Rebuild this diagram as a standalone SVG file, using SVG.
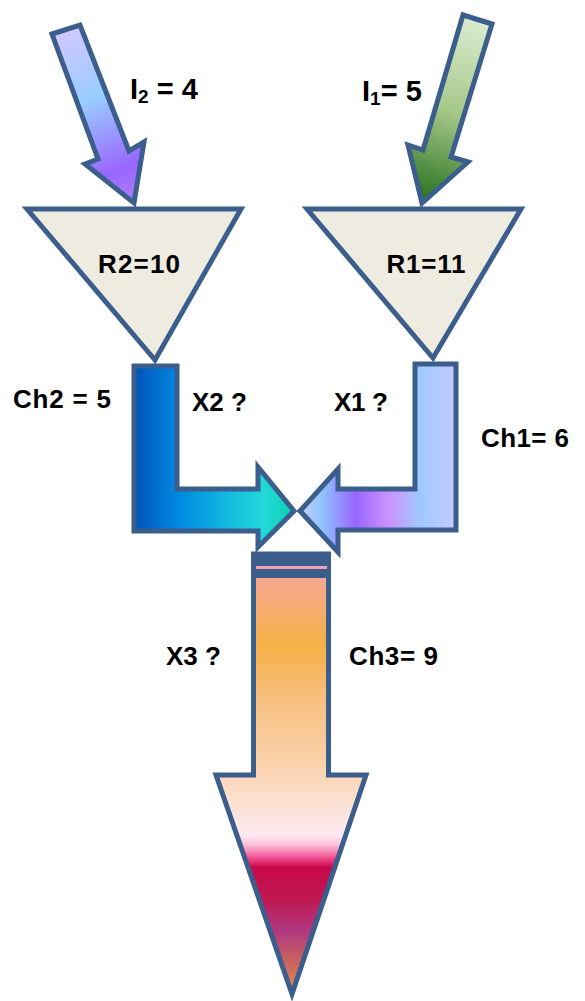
<svg xmlns="http://www.w3.org/2000/svg" width="585" height="1001" viewBox="0 0 585 1001">
  <defs>
    <style>
      .edge { stroke: #3b5e8c; stroke-width: 5; stroke-linejoin: miter; }
      .tank { fill: #eeebe1; }
      .lbl { font-family: "Liberation Sans", Arial, sans-serif; font-weight: bold; fill: #000; }
    </style>
    <linearGradient id="gIn2" gradientUnits="userSpaceOnUse" x1="65" y1="28" x2="134" y2="205">
      <stop offset="0" stop-color="#d2c8ff"/>
      <stop offset="0.4" stop-color="#99ccff"/>
      <stop offset="0.8" stop-color="#9966ff"/>
      <stop offset="1" stop-color="#b080ff"/>
    </linearGradient>
    <linearGradient id="gIn1" gradientUnits="userSpaceOnUse" x1="478" y1="18" x2="422" y2="204">
      <stop offset="0" stop-color="#dcecd2"/>
      <stop offset="0.5" stop-color="#a6c888"/>
      <stop offset="1" stop-color="#236f1c"/>
    </linearGradient>
    <linearGradient id="gCh2" gradientUnits="userSpaceOnUse" x1="132" y1="0" x2="296" y2="0">
      <stop offset="0" stop-color="#0050b8"/>
      <stop offset="0.28" stop-color="#0088e0"/>
      <stop offset="0.55" stop-color="#10b4e0"/>
      <stop offset="0.8" stop-color="#22d8d8"/>
      <stop offset="1" stop-color="#0cd0b0"/>
    </linearGradient>
    <linearGradient id="gCh1" gradientUnits="userSpaceOnUse" x1="298" y1="0" x2="458" y2="0">
      <stop offset="0" stop-color="#c8d0ff"/>
      <stop offset="0.15" stop-color="#90c4ff"/>
      <stop offset="0.36" stop-color="#9966ff"/>
      <stop offset="0.56" stop-color="#cc90ff"/>
      <stop offset="0.76" stop-color="#a0c8ff"/>
      <stop offset="1" stop-color="#c4ccff"/>
    </linearGradient>
    <linearGradient id="gCh3" gradientUnits="userSpaceOnUse" x1="0" y1="579" x2="0" y2="997">
      <stop offset="0" stop-color="#f8a890"/>
      <stop offset="0.158" stop-color="#f5b045"/>
      <stop offset="0.29" stop-color="#f7c080"/>
      <stop offset="0.433" stop-color="#fad0a8"/>
      <stop offset="0.53" stop-color="#fce0d0"/>
      <stop offset="0.612" stop-color="#fdeaf2"/>
      <stop offset="0.636" stop-color="#fcc0d8"/>
      <stop offset="0.667" stop-color="#f05090"/>
      <stop offset="0.69" stop-color="#c8084a"/>
      <stop offset="0.766" stop-color="#c01850"/>
      <stop offset="0.84" stop-color="#b03880"/>
      <stop offset="0.91" stop-color="#c86060"/>
      <stop offset="1" stop-color="#e89050"/>
    </linearGradient>
  </defs>

  <!-- inflow arrows -->
  <g id="inflow2">
    <polygon class="edge" fill="url(#gIn2)" points="52,34 80,25 129,151 144,142 134,203 85,164 98,159"/>
    <text class="lbl" x="130" y="99" font-size="29">I<tspan font-size="19" dy="4">2</tspan><tspan dy="-4"> = 4</tspan></text>
  </g>
  <g id="inflow1">
    <polygon class="edge" fill="url(#gIn1)" points="463,15 492,24 451,157 468,162 422,203 408,145 423,150"/>
    <text class="lbl" x="362" y="101" font-size="29">I<tspan font-size="19" dy="4">1</tspan><tspan dy="-4">= 5</tspan></text>
  </g>

  <!-- reservoirs -->
  <g id="reservoir2">
    <polygon class="edge tank" points="27,209 241,209 155,360"/>
    <text class="lbl" x="139" y="273" font-size="26" text-anchor="middle" textLength="82">R2=10</text>
  </g>
  <g id="reservoir1">
    <polygon class="edge tank" points="307,209 521,209 433,358"/>
    <text class="lbl" x="426" y="273" font-size="26" text-anchor="middle" textLength="79">R1=11</text>
  </g>

  <!-- channels and joint outflow -->
  <g id="connectors">
    <g id="channel2">
      <polygon class="edge" fill="url(#gCh2)" points="134,366 177,366 177,489 258,489 258,467 294,511 258,547 258,531 134,531"/>
    </g>
    <g id="channel1">
      <polygon class="edge" fill="url(#gCh1)" points="456,364 415,364 415,489 338,489 338,469 300,511 338,552 338,530 456,530"/>
    </g>
    <g id="channel3">
      <polygon class="edge" fill="url(#gCh3)" points="253.5,554 328.5,554 328.5,775 366,775 292,994 216,775 253.5,775"/>
      <rect x="251" y="552" width="80" height="26" fill="#3b5e8c"/>
      <rect x="256" y="566" width="71" height="3" fill="#f4a0b4"/>
    </g>
  </g>

  <!-- channel labels -->
  <g id="labels">
    <text class="lbl" x="13" y="408" font-size="26" textLength="98">Ch2 = 5</text>
    <text class="lbl" x="192" y="411" font-size="26" textLength="55">X2 ?</text>
    <text class="lbl" x="334" y="411" font-size="26" textLength="54">X1 ?</text>
    <text class="lbl" x="481" y="447" font-size="26" textLength="88">Ch1= 6</text>
    <text class="lbl" x="166" y="665" font-size="26" textLength="55">X3 ?</text>
    <text class="lbl" x="349" y="665" font-size="26" textLength="89">Ch3= 9</text>
  </g>
</svg>
